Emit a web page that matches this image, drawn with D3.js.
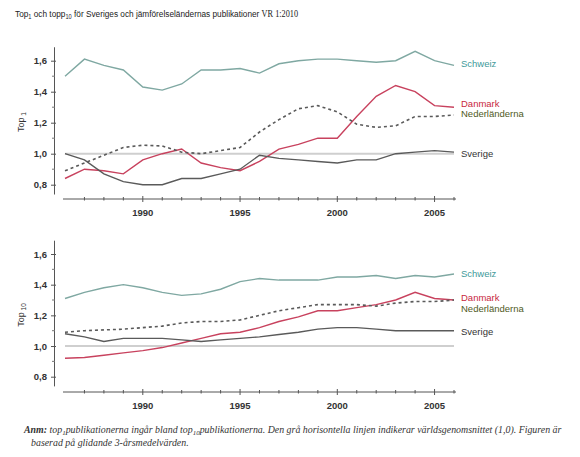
<!DOCTYPE html>
<html>
<head>
<meta charset="utf-8">
<script src="https://cdn.jsdelivr.net/npm/d3@7"></script>
<style>
  html, body { margin: 0; padding: 0; background: #fff; }
  svg { display: block; }
  .lbl { font-family: "Liberation Sans", Arial, sans-serif; }
  .note { font-family: "Liberation Serif", "DejaVu Serif", serif; font-style: italic; }
</style>
</head>
<body>
<svg id="chart" width="580" height="457"></svg>
<script>
// Years covered by both panels
const years = d3.range(1986, 2007);
const xTickLabels = [1990, 1995, 2000, 2005];
const yTickValues = [0.8, 1.0, 1.2, 1.4, 1.6];

// Top 1 % – share of publications (3-year moving averages)
const top1Schweiz = [1.50, 1.61, 1.57, 1.54, 1.43, 1.41, 1.45, 1.54, 1.54, 1.55, 1.52, 1.58, 1.60, 1.61, 1.61, 1.60, 1.59, 1.60, 1.66, 1.60, 1.57];
const top1Danmark = [0.84, 0.90, 0.89, 0.87, 0.96, 1.00, 1.03, 0.94, 0.91, 0.89, 0.95, 1.03, 1.06, 1.10, 1.10, 1.24, 1.37, 1.44, 1.40, 1.31, 1.30];
const top1Nederlanderna = [0.89, 0.94, 0.99, 1.04, 1.055, 1.05, 1.01, 1.00, 1.02, 1.04, 1.14, 1.22, 1.29, 1.31, 1.27, 1.19, 1.17, 1.18, 1.24, 1.24, 1.25];
const top1Sverige = [1.00, 0.96, 0.87, 0.82, 0.80, 0.80, 0.84, 0.84, 0.87, 0.90, 0.99, 0.97, 0.96, 0.95, 0.94, 0.96, 0.96, 1.00, 1.01, 1.02, 1.01];

// Top 10 %
const top10Schweiz = [1.31, 1.35, 1.38, 1.40, 1.38, 1.35, 1.33, 1.34, 1.37, 1.42, 1.44, 1.43, 1.43, 1.43, 1.45, 1.45, 1.46, 1.44, 1.46, 1.45, 1.47];
const top10Danmark = [0.92, 0.925, 0.94, 0.955, 0.97, 0.99, 1.02, 1.05, 1.08, 1.09, 1.12, 1.16, 1.19, 1.23, 1.23, 1.25, 1.27, 1.30, 1.35, 1.31, 1.30];
const top10Nederlanderna = [1.09, 1.10, 1.105, 1.11, 1.12, 1.13, 1.15, 1.16, 1.16, 1.17, 1.20, 1.23, 1.25, 1.27, 1.27, 1.27, 1.26, 1.28, 1.29, 1.29, 1.30];
const top10Sverige = [1.08, 1.06, 1.03, 1.05, 1.05, 1.05, 1.04, 1.03, 1.04, 1.05, 1.06, 1.075, 1.09, 1.11, 1.12, 1.12, 1.11, 1.10, 1.10, 1.10, 1.10];

const worldAverage = 1.0;

const countries = ["Schweiz", "Danmark", "Nederländerna", "Sverige"];
const lineColor = { "Schweiz": "#7fa8a2", "Danmark": "#c8425e", "Nederländerna": "#5a5a5a", "Sverige": "#5a5a5a" };
const labelColor = { "Schweiz": "#3e9a9a", "Danmark": "#c8283e", "Nederländerna": "#4f5a24", "Sverige": "#333" };
const dashed = { "Nederländerna": "3,3" };

const svg = d3.select("#chart");
const x = d3.scaleLinear().domain([1986, 2006]).range([65, 454]);

const fmt = v => d3.format(".1f")(v).replace(".", ",");

function panel(opts) {
  const y = d3.scaleLinear().domain([0.8, 1.6]).range(opts.yRange);
  const g = svg.append("g");

  // world average reference line
  g.append("line")
    .attr("x1", x(1986)).attr("x2", x(2006))
    .attr("y1", y(worldAverage)).attr("y2", y(worldAverage))
    .attr("stroke", "#cfcfcf").attr("stroke-width", 2);

  // y axis with minor ticks every 0.1
  const yAxisScale = y.copy().domain(opts.axisExtent).range(opts.axisExtent.map(y));
  const yAxis = g.append("g").attr("transform", "translate(54,0)")
    .call(d3.axisLeft(yAxisScale).tickValues(yTickValues).tickFormat(fmt).tickSize(3).tickSizeOuter(0));
  yAxis.select(".domain").attr("stroke", "#555");
  yAxis.selectAll(".tick line").attr("stroke", "#555").attr("x2", 2).attr("x1", -3);
  yAxis.selectAll(".tick text")
    .attr("class", "lbl").attr("x", -7)
    .attr("font-size", 9.5).attr("font-weight", "bold").attr("fill", "#333");
  g.append("g").selectAll("line")
    .data([0.9, 1.1, 1.3, 1.5, 1.7].filter(v => v <= opts.axisExtent[1]))
    .join("line")
    .attr("x1", 52).attr("x2", 55)
    .attr("y1", d => y(d)).attr("y2", d => y(d))
    .attr("stroke", "#777");

  // x axis: tick at every year, longer ticks at labelled years
  const xa = g.append("g");
  xa.append("line")
    .attr("x1", x(1986) - 2).attr("x2", x(2006) + 2)
    .attr("y1", opts.xAxisY).attr("y2", opts.xAxisY)
    .attr("stroke", "#555");
  xa.selectAll(".yt").data(years.slice(1)).join("line")
    .attr("class", "yt")
    .attr("x1", d => x(d)).attr("x2", d => x(d))
    .attr("y1", d => opts.xAxisY - (xTickLabels.includes(d) ? 3 : 2))
    .attr("y2", d => opts.xAxisY + (xTickLabels.includes(d) ? 3 : 1.5))
    .attr("stroke", "#555");
  xa.selectAll("text").data(xTickLabels).join("text")
    .attr("class", "lbl")
    .attr("x", d => x(d)).attr("y", opts.xAxisY + 17)
    .attr("text-anchor", "middle")
    .attr("font-size", 9.5).attr("font-weight", "bold").attr("fill", "#333")
    .text(d => d);

  // y axis title with subscript
  const yt = g.append("text").attr("class", "lbl")
    .attr("transform", `translate(24,${opts.titleY}) rotate(-90)`)
    .attr("text-anchor", "middle").attr("font-size", 9).attr("fill", "#333");
  yt.append("tspan").text("Top");
  yt.append("tspan").attr("font-size", 6.5).attr("dy", 2).text(" " + opts.sub);

  // country lines
  const line = d3.line().x((d, i) => x(years[i])).y(d => y(d));
  countries.forEach(c => {
    g.append("path")
      .datum(opts.data[c])
      .attr("fill", "none")
      .attr("stroke", lineColor[c])
      .attr("stroke-width", c === "Nederländerna" ? 1.6 : 1.4)
      .attr("stroke-dasharray", dashed[c] || null)
      .attr("d", line);
  });

  // end labels
  countries.forEach(c => {
    g.append("text").attr("class", "lbl")
      .attr("x", 461).attr("y", opts.labelY[c])
      .attr("font-size", 9.5).attr("fill", labelColor[c])
      .attr("dominant-baseline", "middle")
      .text(c);
  });
}

panel({
  yRange: [184.7, 60.7],
  axisExtent: [0.74, 1.69],
  xAxisY: 199,
  titleY: 122,
  sub: "1",
  data: { "Schweiz": top1Schweiz, "Danmark": top1Danmark, "Nederländerna": top1Nederlanderna, "Sverige": top1Sverige },
  labelY: { "Schweiz": 64, "Danmark": 104, "Nederländerna": 114, "Sverige": 154 }
});

panel({
  yRange: [376.7, 254],
  axisExtent: [0.74, 1.69],
  xAxisY: 392,
  titleY: 315,
  sub: "10",
  data: { "Schweiz": top10Schweiz, "Danmark": top10Danmark, "Nederländerna": top10Nederlanderna, "Sverige": top10Sverige },
  labelY: { "Schweiz": 274, "Danmark": 298, "Nederländerna": 309, "Sverige": 332 }
});

// Title (condensed horizontally)
const title = svg.append("text").attr("class", "lbl")
  .attr("transform", "translate(15,17) scale(0.87,1)")
  .attr("font-size", 9.5).attr("fill", "#222");
title.append("tspan").text("Top");
title.append("tspan").attr("font-size", 6.5).attr("dy", 2).text("1");
title.append("tspan").attr("dy", -2).text(" och topp");
title.append("tspan").attr("font-size", 6.5).attr("dy", 2).text("10");
title.append("tspan").attr("dy", -2).text(" för Sveriges och jämförelseländernas publikationer ");
title.append("tspan").attr("font-family", "Liberation Serif, serif").attr("font-size", 9.5).text("VR 1:2010");

// Footnote
const note1 = svg.append("text").attr("class", "note")
  .attr("x", 24).attr("y", 433).attr("font-size", 9.9).attr("fill", "#333");
note1.append("tspan").attr("font-weight", "bold").text("Anm: ");
note1.append("tspan").text("top");
note1.append("tspan").attr("font-size", 7).attr("dy", 2).text("1");
note1.append("tspan").attr("dy", -2).text("publikationerna ingår bland top");
note1.append("tspan").attr("font-size", 7).attr("dy", 2).text("10");
note1.append("tspan").attr("dy", -2).text("publikationerna. Den grå horisontella linjen indikerar världsgenomsnittet (1,0). Figuren är");
svg.append("text").attr("class", "note")
  .attr("x", 31).attr("y", 446).attr("font-size", 9.9).attr("fill", "#333")
  .text("baserad på glidande 3-årsmedelvärden.");
</script>
</body>
</html>
